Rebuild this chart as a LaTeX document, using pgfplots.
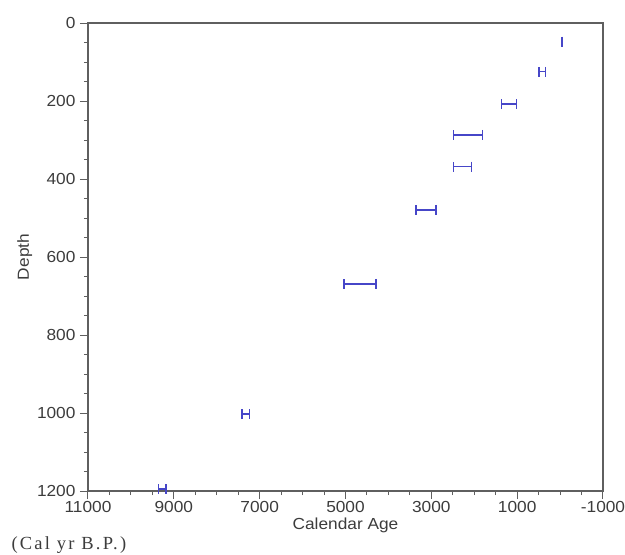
\documentclass[border=0pt]{standalone}
\usepackage{pgfplots}
\pgfplotsset{compat=1.18}
\usepackage{fontspec}
\setmainfont{Liberation Sans}[FakeStretch=1.08]
\newfontfamily\serifcal{Liberation Serif}[LetterSpace=12]
\definecolor{barblue}{RGB}{70,70,200}
\definecolor{axgray}{RGB}{95,95,95}
\definecolor{txtgray}{RGB}{60,60,60}
\begin{document}
\begin{tikzpicture}
\useasboundingbox (-88pt,-64pt) rectangle (537pt,491pt);
\begin{axis}[
  at={(0,0)}, anchor=south west,
  scale only axis, width=515pt, height=468pt,
  x dir=reverse, y dir=reverse,
  xmin=-1000, xmax=11000, ymin=0, ymax=1200,
  xtick={11000,9000,7000,5000,3000,1000,-1000},
  ytick={0,200,400,600,800,1000,1200},
  minor x tick num=3, minor y tick num=3,
  xtick pos=bottom, ytick pos=left,
  tick align=outside,
  major tick length=8pt, minor tick length=4pt,
  every tick/.style={axgray, line width=1pt},
  axis line style={axgray, line width=1.3pt},
  scaled x ticks=false,
  xticklabel style={/pgf/number format/1000 sep={}, yshift=1pt},
  yticklabel style={/pgf/number format/1000 sep={}, xshift=-1pt},
  /pgf/number format/assume math mode=true,
  tick label style={font=\fontsize{16}{17}\selectfont, text=txtgray},
  label style={font=\fontsize{16}{17}\selectfont, text=txtgray},
  xlabel={Calendar Age},
  ylabel={Depth},
  xlabel style={yshift=2pt},
  ylabel style={yshift=-2pt},
  clip=false,
]
\addplot[barblue, only marks, mark=text, text mark={},
  error bars/.cd, x dir=both, x explicit,
  error mark options={barblue, line width=1.3pt, mark size=5pt, rotate=90},
  error bar style={barblue, line width=1.4pt}]
table[x=x, y=y, x error=e] {
x y e
-40 48 6
414 125 75
1190 208 175
2146 287 342
2274 368 214
3124 479 233
4662 669 373
7320 1003 90
9270 1195 85
};
\end{axis}
\node[anchor=west, text=txtgray, font=\serifcal\fontsize{18.5}{19}\selectfont] at (-80pt,-54pt) {(Cal yr B.P.)};
\end{tikzpicture}
\end{document}
